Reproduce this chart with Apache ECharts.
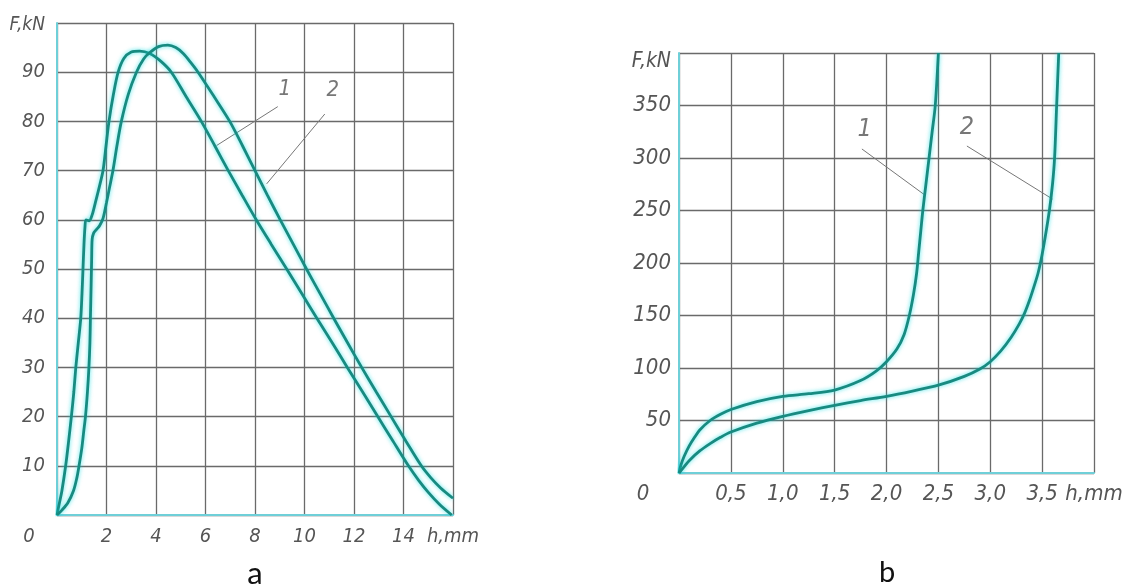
<!DOCTYPE html>
<html>
<head>
<meta charset="utf-8">
<script src="https://cdn.jsdelivr.net/npm/echarts@6/dist/echarts.min.js"></script>
<style>
  html, body { margin: 0; padding: 0; background: #fff; }
  #main { width: 1127px; height: 587px; }
</style>
</head>
<body>
<div id="main"></div>
<script>
// chart a: F (kN) against h (mm)
var curveA1 = [[0,0],[0.1,2.5],[0.2,5],[0.35,10],[0.47,15],[0.58,20],[0.68,25],[0.76,30],[0.86,35],[0.96,40],
  [1.01,45],[1.05,50],[1.09,55],[1.13,58.5],[1.17,60],[1.3,59.8],[1.42,61],[1.55,63.5],[1.7,66.5],[1.86,70],
  [1.98,75],[2.1,80],[2.28,85.5],[2.47,90],[2.7,92.8],[3.0,94.1],[3.34,94.3],[3.75,93.8],[4.2,92.2],[4.62,90],
  [5.22,85],[5.83,80],[6.38,75],[6.92,70],[7.48,65],[8.05,60],[8.66,55],[9.28,50],[9.89,45],[10.5,40],
  [11.12,35],[11.73,30],[12.35,25],[12.96,20],[13.58,15],[14.2,10],[14.62,7],[15.02,4.5],[15.45,2.2],[15.95,0]];
var curveA2 = [[0,0],[0.2,1],[0.44,2.5],[0.67,5],[0.8,7.5],[0.89,10],[1.0,13.5],[1.08,17],[1.15,20],[1.23,25],
  [1.29,30],[1.33,35],[1.35,40],[1.38,47],[1.4,52],[1.42,56],[1.48,57.3],[1.59,58],[1.72,58.8],[1.86,60.3],
  [2.0,63.5],[2.12,66.5],[2.26,70],[2.42,75],[2.6,80],[2.88,85.5],[3.21,90],[3.5,92.7],[3.75,94],[4.1,95.2],
  [4.48,95.5],[4.8,95],[5.1,93.8],[5.4,92],[5.7,90],[6.35,85],[6.98,80],[7.5,75],[8.0,70],[8.5,65],
  [9.02,60],[9.55,55],[10.08,50],[10.63,45],[11.18,40],[11.74,35],[12.31,30],[12.9,25],[13.5,20],[14.1,15],
  [14.72,10],[15.1,7.6],[15.5,5.5],[16,3.4]];
// chart b
var curveB1 = [[0,0],[0.02,8],[0.05,16],[0.1,26],[0.15,34],[0.2,41],[0.3,50],[0.4,56],[0.5,60.5],[0.75,68],
  [1.0,73],[1.25,75.5],[1.5,79],[1.75,88],[1.9,97],[2.0,106],[2.1,118],[2.17,132],[2.22,150],[2.26,170],
  [2.29,190],[2.31,210],[2.33,230],[2.35,250],[2.38,275],[2.41,300],[2.44,325],[2.47,350],[2.5,400]];
var curveB2 = [[0,0],[0.05,6],[0.1,12],[0.2,21],[0.3,28],[0.4,34],[0.5,39],[0.75,47.5],[1.0,54],[1.25,59.5],
  [1.5,64.5],[1.75,69],[2.0,73],[2.25,78],[2.5,83.6],[2.75,92],[2.9,99],[3.0,106],[3.1,116],[3.2,129],
  [3.28,142],[3.33,152],[3.38,165],[3.42,177],[3.46,190],[3.49,203],[3.53,225],[3.57,250],[3.6,275],
  [3.62,300],[3.64,350],[3.66,400]];

// curve numbers and their leader lines
var tagsA = [{name: '1', value: [9.2, 86.6]}, {name: '2', value: [11.14, 86.4]}];
var leadersA = [[[8.92, 83.0], [6.45, 75.1]], [[10.82, 81.5], [8.47, 67.3]]];
var tagsB = [{name: '1', value: [1.79, 326.7]}, {name: '2', value: [2.775, 328.6]}];
var leadersB = [[[1.763, 308.6], [2.37, 264.7]], [[2.775, 311.4], [3.60, 260.9]]];

var font = '"DejaVu Sans Condensed", "Liberation Sans Narrow", "Noto Sans", sans-serif';
var teal = '#188a80';
var cyan = '#6fcfd8';
var gridGray = '#6a6a6a';

function fmtB(v) {
  if (v === 4) return 'h,mm';
  return v.toFixed(1).replace('.', ',');
}

function curve(data, i) {
  return {
    type: 'line', xAxisIndex: i, yAxisIndex: i, data: data,
    showSymbol: false, smooth: 0.3,
    lineStyle: { color: teal, width: 2.8, shadowColor: 'rgba(0,220,225,0.7)', shadowBlur: 4 },
    z: 5
  };
}

function leader(pts, i) {
  return {
    type: 'line', xAxisIndex: i, yAxisIndex: i, data: pts, showSymbol: false,
    lineStyle: { color: '#777', width: 1 }, z: 4
  };
}

function tags(data, i, size) {
  return {
    type: 'scatter', xAxisIndex: i, yAxisIndex: i, data: data, symbolSize: 0,
    label: {
      show: true, position: 'inside', formatter: '{b}',
      fontFamily: font, fontStyle: 'italic', fontSize: size, color: '#555'
    },
    z: 6
  };
}

var myChart = echarts.init(document.getElementById('main'));

var option = {
  animation: false,
  backgroundColor: '#fff',
  title: [
    { text: 'a', left: 250, top: 553, textAlign: 'center',
      textStyle: { fontFamily: 'Lato, sans-serif', fontWeight: 'normal', fontSize: 31, color: '#111' } },
    { text: 'b', left: 882, top: 553, textAlign: 'center',
      textStyle: { fontFamily: 'Lato, sans-serif', fontWeight: 'normal', fontSize: 29, color: '#111' } }
  ],
  grid: [
    { left: 57, top: 23, width: 396, height: 492 },
    { left: 679, top: 53, width: 415, height: 420 }
  ],
  xAxis: [
    {
      type: 'value', gridIndex: 0, min: 0, max: 16, interval: 2,
      axisLine: { lineStyle: { color: cyan, width: 2 } },
      axisTick: { show: false },
      splitLine: { lineStyle: { color: gridGray, width: 1.3 } },
      axisLabel: {
        margin: 12, fontFamily: font, fontStyle: 'italic', fontSize: 20, color: '#555',
        formatter: function (v) { return v === 0 ? '{z|0}' : (v === 16 ? 'h,mm' : String(v)); },
        rich: { z: { fontFamily: font, fontStyle: 'italic', fontSize: 20, color: '#555', padding: [0, 56, 0, 0] } }
      }
    },
    {
      type: 'value', gridIndex: 1, min: 0, max: 4, interval: 0.5,
      axisLine: { lineStyle: { color: cyan, width: 2 } },
      axisTick: { show: false },
      splitLine: { lineStyle: { color: gridGray, width: 1.3 } },
      axisLabel: {
        margin: 10, fontFamily: font, fontStyle: 'italic', fontSize: 22, color: '#555',
        formatter: function (v) { return v === 0 ? '{z|0}' : fmtB(v); },
        rich: { z: { fontFamily: font, fontStyle: 'italic', fontSize: 22, color: '#555', padding: [0, 72, 0, 0] } }
      }
    }
  ],
  yAxis: [
    {
      type: 'value', gridIndex: 0, min: 0, max: 100, interval: 10,
      axisLine: { show: true, lineStyle: { color: cyan, width: 2 } },
      axisTick: { show: false },
      splitLine: { lineStyle: { color: gridGray, width: 1.3 } },
      axisLabel: {
        margin: 12, fontFamily: font, fontStyle: 'italic', fontSize: 20, color: '#555',
        formatter: function (v) { return v === 0 ? '' : (v === 100 ? '{f|F,kN}' : String(v)); },
        rich: { f: { fontFamily: font, fontStyle: 'italic', fontSize: 19, color: '#555', padding: [4, 0, 0, 0] } }
      }
    },
    {
      type: 'value', gridIndex: 1, min: 0, max: 400, interval: 50,
      axisLine: { show: true, lineStyle: { color: cyan, width: 2 } },
      axisTick: { show: false },
      splitLine: { lineStyle: { color: gridGray, width: 1.3 } },
      axisLabel: {
        margin: 8, fontFamily: font, fontStyle: 'italic', fontSize: 22, color: '#555',
        formatter: function (v) { return v === 0 ? '' : (v === 400 ? '{f|F,kN}' : String(v)); },
        rich: { f: { fontFamily: font, fontStyle: 'italic', fontSize: 21, color: '#555', padding: [18, 0, 0, 0] } }
      }
    }
  ],
  series: [
    curve(curveA1, 0), curve(curveA2, 0),
    curve(curveB1, 1), curve(curveB2, 1),
    leader(leadersA[0], 0), leader(leadersA[1], 0),
    leader(leadersB[0], 1), leader(leadersB[1], 1),
    tags(tagsA, 0, 22), tags(tagsB, 1, 25)
  ]
};

option && myChart.setOption(option);
</script>
</body>
</html>
